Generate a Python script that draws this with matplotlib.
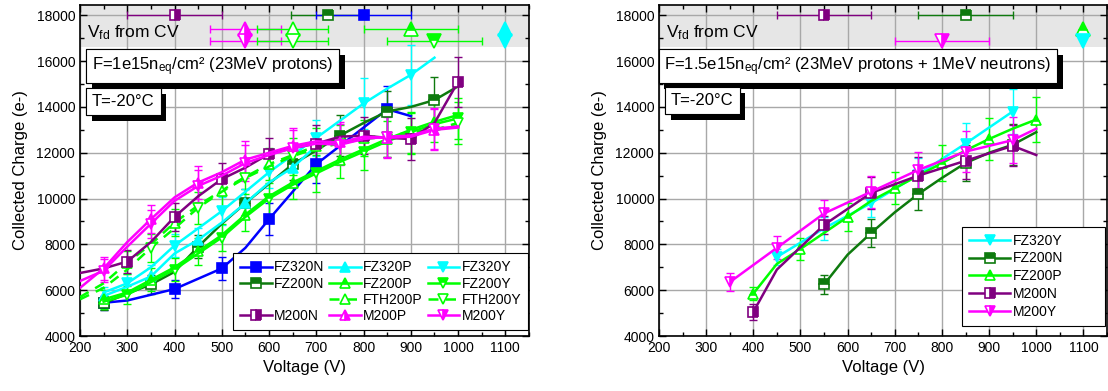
from matplotlib import pyplot as plt
import matplotlib.ticker as ticker
import matplotlib.patheffects as pe
from matplotlib.lines import Line2D

plt.rcParams['font.family'] = ['Liberation Sans', 'DejaVu Sans']
plt.rcParams['mathtext.fontset'] = 'custom'
plt.rcParams['mathtext.rm'] = 'Liberation Sans'
plt.rcParams['mathtext.it'] = 'Liberation Sans:italic'

# colours
c_blue = '#0000FF'
c_dgreen = '#0E7A0E'
c_lime = '#00FF00'
c_cyan = '#00FFFF'
c_purple = '#800080'
c_magenta = '#FF00FF'

# ---------------- left panel: 1e15 protons ----------------
fz320n_v = [250, 300, 400, 500, 550, 600, 700, 850, 900]
fz320n_q = [5450, 5550, 6050, 6950, 7850, 9100, 11500, 13900, 13600]
fz320n_mk = [0, 2, 3, 5, 6, 7]
fz320n_err = [300, 400, 500, 700, 800, 1000]

fz200n_v = [250, 300, 350, 400, 450, 500, 550, 600, 650, 700, 750, 800, 850, 900, 950, 1000]
fz200n_q = [5430, 5850, 6250, 6800, 7900, 8900, 9800, 10650, 11500, 12100, 12750, 13300, 13800, 14000, 14300, 14900]
fz200n_mk = [0, 2, 4, 6, 8, 10, 12, 14]
fz200n_err = [300, 400, 500, 600, 700, 900, 900, 1000]

fz320p_v = [250, 300, 350, 400, 450, 500, 550, 600, 650, 700]
fz320p_q = [5750, 6150, 6600, 7600, 8200, 8950, 9800, 10700, 11350, 12300]
fz320p_mk = [0, 2, 4, 6, 8]
fz320p_err = [400, 500, 500, 600, 700]

fz320y_v = [250, 300, 350, 400, 450, 500, 550, 600, 650, 700, 750, 800, 850, 900, 950]
fz320y_q = [5900, 6300, 7000, 7950, 8700, 9450, 10300, 11150, 11900, 12650, 13400, 14150, 14800, 15400, 16150]
fz320y_mk = [1, 3, 5, 7, 9, 11, 13]
fz320y_err = [400, 500, 600, 700, 800, 1100, 1300]

v250_1000 = [250, 300, 350, 400, 450, 500, 550, 600, 650, 700, 750, 800, 850, 900, 950, 1000]
fz200p_q = [5600, 5900, 6450, 7000, 7700, 8400, 9300, 10100, 10700, 11200, 11700, 12150, 12600, 13000, 13350, 13650]
fz200p_mk = [0, 2, 4, 6, 8, 10, 12, 14]
fz200p_err = [400, 500, 600, 700, 700, 800, 800, 900]

fz200y_q = [5500, 5800, 6350, 6900, 7600, 8300, 9200, 10000, 10600, 11100, 11600, 12050, 12500, 12900, 13250, 13500]
fz200y_mk = [1, 3, 5, 7, 9, 11, 13, 15]
fz200y_err = [400, 500, 600, 700, 800, 800, 900, 900]

v200_1000 = [200, 250, 300, 350, 400, 450, 500, 550, 600, 650, 700, 750, 800, 850, 900, 950, 1000]
fth200p_q = [5700, 6300, 7200, 8000, 8950, 9700, 10350, 10950, 11500, 11900, 12300, 12450, 12650, 12750, 12850, 12950, 13300]
fth200p_mk = [2, 4, 6, 8, 10, 12, 14]
fth200p_err = [500, 600, 700, 700, 800, 800, 900]

fth200y_q = [5600, 6100, 6900, 7850, 8700, 9600, 10300, 10900, 11400, 11850, 12200, 12400, 12600, 12700, 12900, 13000, 13300]
fth200y_mk = [3, 5, 7, 9, 11, 13, 16]
fth200y_err = [600, 700, 700, 800, 800, 900, 900]

m200n_q = [6750, 6950, 7250, 8100, 9200, 10100, 10850, 11350, 11950, 12200, 12400, 12700, 12750, 12650, 12600, 13300, 15100]
m200n_mk = [2, 4, 6, 8, 10, 12, 14, 16]
m200n_err = [500, 600, 700, 700, 800, 800, 900, 1100]

m200p_q = [6100, 6950, 8100, 9100, 10050, 10700, 11150, 11700, 12000, 12300, 12500, 12450, 12700, 12650, 12700, 13000, 13100]
m200p_mk = [1, 3, 5, 7, 9, 11, 13, 15]
m200p_err = [500, 600, 700, 800, 800, 900, 900, 900]

m200y_q = [6400, 6850, 7900, 8900, 9900, 10550, 11000, 11550, 11900, 12200, 12400, 12350, 12600, 12700, 12750, 13050, 13150]
m200y_mk = [1, 3, 5, 7, 9, 11, 13, 15]
m200y_err = [500, 600, 700, 800, 800, 900, 900, 900]

# Vfd from CV (left): name, voltage, xerr, row
vfd_left_names = ['M200N', 'FZ200N', 'FZ320N', 'M200P', 'FTH200P', 'FZ200P', 'FZ320P',
                  'M200Y', 'FTH200Y', 'FZ200Y', 'FZ320Y']
vfd_left_v = [400, 725, 800, 550, 650, 900, 1100, 550, 650, 950, 1100]
vfd_left_err = [100, 78, 100, 75, 75, 100, 0, 75, 75, 100, 0]
vfd_left_row = [0, 0, 0, 1, 1, 1, 1, 2, 2, 2, 2]

# ---------------- right panel: 1.5e15 protons + neutrons ----------------
r_fz320y_v = [450, 550, 650, 750, 850, 950]
r_fz320y_q = [7450, 8700, 9800, 11050, 12400, 13800]
r_fz320y_mk = [0, 1, 2, 3, 4, 5]
r_fz320y_err = [350, 500, 600, 700, 900, 1000]

r_fz200n_v = [550, 600, 650, 700, 750, 800, 850, 900, 950, 1000]
r_fz200n_q = [6250, 7550, 8500, 9400, 10200, 10900, 11550, 12000, 12350, 12900]
r_fz200n_mk = [0, 2, 4, 6, 8]
r_fz200n_err = [400, 600, 700, 800, 900]

r_fz200p_v = [400, 450, 500, 550, 600, 650, 700, 750, 800, 850, 900, 950, 1000]
r_fz200p_q = [5850, 7150, 7800, 8500, 9200, 9900, 10450, 11000, 11550, 12100, 12600, 13050, 13450]
r_fz200p_mk = [0, 2, 4, 6, 8, 10, 12]
r_fz200p_err = [300, 500, 600, 700, 800, 900, 1000]

r_m200n_v = [400, 450, 550, 650, 750, 850, 950, 1000]
r_m200n_q = [5050, 6900, 8850, 10250, 11000, 11650, 12300, 11900]
r_m200n_mk = [0, 2, 3, 4, 5, 6]
r_m200n_err = [350, 400, 700, 800, 800, 900]

r_m200y_v = [350, 450, 550, 650, 750, 850, 950, 1000]
r_m200y_q = [6350, 7850, 9350, 10300, 11250, 12050, 12550, 13050]
r_m200y_mk = [0, 1, 2, 3, 4, 5, 6]
r_m200y_err = [400, 500, 600, 700, 800, 900, 1000]

vfd_right_names = ['M200N', 'FZ200N', 'M200Y', 'FZ200P', 'FZ320Y']
vfd_right_v = [550, 850, 800, 1100, 1100]
vfd_right_err = [100, 100, 100, 0, 0]
vfd_right_row = [0, 0, 2, 1, 2]

# series styles: colour, marker, fill, linestyle
style = {
    'FZ320N': (c_blue, 's', 'full', '-'),
    'FZ200N': (c_dgreen, 's', 'top', '-'),
    'FZ320P': (c_cyan, '^', 'full', '-'),
    'FZ200P': (c_lime, '^', 'top', '-'),
    'FTH200P': (c_lime, '^', 'open', '--'),
    'M200N': (c_purple, 's', 'right', '-'),
    'M200P': (c_magenta, '^', 'right', '-'),
    'FZ320Y': (c_cyan, 'v', 'full', '-'),
    'FZ200Y': (c_lime, 'v', 'top', '-'),
    'FTH200Y': (c_lime, 'v', 'open', '--'),
    'M200Y': (c_magenta, 'v', 'right', '-'),
}
row_q = [18000, 17390, 16870]


def mk_kw(name, ms):
    col, m, fill, ls = style[name]
    kw = dict(marker=m, ms=ms, mec=col, mew=1.2)
    if fill == 'open':
        kw.update(mfc='white')
    elif fill == 'full':
        kw.update(mfc=col)
    else:
        kw.update(mfc=col, fillstyle=fill, markerfacecoloralt='white')
    return kw


def plot_series(ax, name, v, q, mk, err):
    col, m, fill, ls = style[name]
    ms = 6.5 if m == 's' else 7.5
    ax.errorbar([v[i] for i in mk], [q[i] for i in mk], yerr=err, fmt='none',
                ecolor=col, elinewidth=1, capsize=3, capthick=1, zorder=3)
    ln, = ax.plot(v, q, color=col, lw=1.8, ls=ls, markevery=mk, label=name,
                  zorder=4, **mk_kw(name, ms))
    if ls == '--':
        ln.set_dashes((4, 3))
    return ln


def plot_vfd(ax, names, vs, errs, rows):
    for n, v, e, r in zip(names, vs, errs, rows):
        col = style[n][0]
        if e > 0:
            ax.errorbar([v], [row_q[r]], xerr=[e], fmt='none', ecolor=col,
                        elinewidth=1, capsize=3, capthick=1, zorder=5)
        ms = 7.5 if style[n][1] == 's' else 10.5
        ax.plot([v], [row_q[r]], ls='none', zorder=6, clip_on=False, **mk_kw(n, ms))


def text_box(ax, x, y, s, fs):
    t = ax.text(x, y, s, transform=ax.transAxes, ha='left', va='center', fontsize=fs,
                zorder=10, bbox=dict(boxstyle='square,pad=0.35', fc='white', ec='black', lw=0.8))
    t.get_bbox_patch().set_path_effects([
        pe.withSimplePatchShadow(offset=(4, -4), shadow_rgbFace='black', alpha=1.0),
        pe.Normal()])


def setup_ax(ax):
    ax.set_xlim(200, 1150)
    ax.set_ylim(4000, 18450)
    ax.set_axisbelow(True)
    ax.axhspan(16620, 18450, color='#e6e6e6', lw=0, zorder=0.2)
    ax.xaxis.set_major_locator(ticker.MultipleLocator(100))
    ax.xaxis.set_minor_locator(ticker.MultipleLocator(50))
    ax.yaxis.set_major_locator(ticker.MultipleLocator(2000))
    ax.yaxis.set_minor_locator(ticker.MultipleLocator(1000))
    ax.tick_params(which='both', direction='in', top=True, right=True, labelsize=10, colors='black')
    ax.tick_params(which='major', length=5, width=1)
    ax.tick_params(which='minor', length=3, width=1)
    ax.grid(which='major', color='#a8a8a8', lw=1)
    for s in ax.spines.values():
        s.set_linewidth(1.2)
    ax.set_xlabel('Voltage (V)', fontsize=12)
    ax.set_ylabel('Collected Charge (e-)', fontsize=12, labelpad=6)
    ax.text(0.016, 0.915, r'V$_{\rm fd}$ from CV', transform=ax.transAxes,
            fontsize=12.5, ha='left', va='center', zorder=7)


fig = plt.figure(figsize=(11.08, 3.91), dpi=100)
ax1 = fig.add_axes([80 / 1108, 55 / 391, 449 / 1108, 331 / 391])
ax2 = fig.add_axes([659 / 1108, 55 / 391, 448 / 1108, 331 / 391])
setup_ax(ax1)
setup_ax(ax2)

# left panel
h = {}
h['FZ320N'] = plot_series(ax1, 'FZ320N', fz320n_v, fz320n_q, fz320n_mk, fz320n_err)
h['FZ200N'] = plot_series(ax1, 'FZ200N', fz200n_v, fz200n_q, fz200n_mk, fz200n_err)
h['FZ320P'] = plot_series(ax1, 'FZ320P', fz320p_v, fz320p_q, fz320p_mk, fz320p_err)
h['FZ320Y'] = plot_series(ax1, 'FZ320Y', fz320y_v, fz320y_q, fz320y_mk, fz320y_err)
h['FZ200P'] = plot_series(ax1, 'FZ200P', v250_1000, fz200p_q, fz200p_mk, fz200p_err)
h['FZ200Y'] = plot_series(ax1, 'FZ200Y', v250_1000, fz200y_q, fz200y_mk, fz200y_err)
h['FTH200P'] = plot_series(ax1, 'FTH200P', v200_1000, fth200p_q, fth200p_mk, fth200p_err)
h['FTH200Y'] = plot_series(ax1, 'FTH200Y', v200_1000, fth200y_q, fth200y_mk, fth200y_err)
h['M200N'] = plot_series(ax1, 'M200N', v200_1000, m200n_q, m200n_mk, m200n_err)
h['M200P'] = plot_series(ax1, 'M200P', v200_1000, m200p_q, m200p_mk, m200p_err)
h['M200Y'] = plot_series(ax1, 'M200Y', v200_1000, m200y_q, m200y_mk, m200y_err)
plot_vfd(ax1, vfd_left_names, vfd_left_v, vfd_left_err, vfd_left_row)

# legend with an empty slot in the first column
blank = Line2D([], [], color='none', label=' ')
order = [h['FZ320N'], h['FZ200N'], blank, h['M200N'],
         h['FZ320P'], h['FZ200P'], h['FTH200P'], h['M200P'],
         h['FZ320Y'], h['FZ200Y'], h['FTH200Y'], h['M200Y']]
leg1 = ax1.legend(handles=order, labels=[l.get_label() for l in order], ncol=3,
                  loc='lower left', bbox_to_anchor=(0.341, 0.018, 0.657, 0), mode='expand',
                  borderaxespad=0, fontsize=10, fancybox=False, framealpha=1, edgecolor='black',
                  handlelength=2.3, handletextpad=0.15, columnspacing=0.4,
                  labelspacing=0.16, borderpad=0.5)
leg1.get_frame().set_linewidth(0.8)
leg1.set_zorder(20)

text_box(ax1, 0.027, 0.815, r'F=1e15n$_{\rm eq}$/cm² (23MeV protons)', 12)
text_box(ax1, 0.027, 0.708, 'T=-20°C', 12)

# right panel
g = {}
g['FZ320Y'] = plot_series(ax2, 'FZ320Y', r_fz320y_v, r_fz320y_q, r_fz320y_mk, r_fz320y_err)
g['FZ200N'] = plot_series(ax2, 'FZ200N', r_fz200n_v, r_fz200n_q, r_fz200n_mk, r_fz200n_err)
g['FZ200P'] = plot_series(ax2, 'FZ200P', r_fz200p_v, r_fz200p_q, r_fz200p_mk, r_fz200p_err)
g['M200N'] = plot_series(ax2, 'M200N', r_m200n_v, r_m200n_q, r_m200n_mk, r_m200n_err)
g['M200Y'] = plot_series(ax2, 'M200Y', r_m200y_v, r_m200y_q, r_m200y_mk, r_m200y_err)
plot_vfd(ax2, vfd_right_names, vfd_right_v, vfd_right_err, vfd_right_row)

order2 = [g['FZ320Y'], g['FZ200N'], g['FZ200P'], g['M200N'], g['M200Y']]
leg2 = ax2.legend(handles=order2, loc='lower left', bbox_to_anchor=(0.676, 0.03, 0.319, 0),
                  mode='expand', borderaxespad=0, fontsize=10, fancybox=False, framealpha=1,
                  edgecolor='black', handlelength=3.0, handletextpad=0.2,
                  labelspacing=0.28, borderpad=0.5)
leg2.get_frame().set_linewidth(0.8)
leg2.set_zorder(20)

text_box(ax2, 0.012, 0.815, r'F=1.5e15n$_{\rm eq}$/cm² (23MeV protons + 1MeV neutrons)', 12)
text_box(ax2, 0.027, 0.711, 'T=-20°C', 12)

fig.savefig('out.png', dpi=100)
